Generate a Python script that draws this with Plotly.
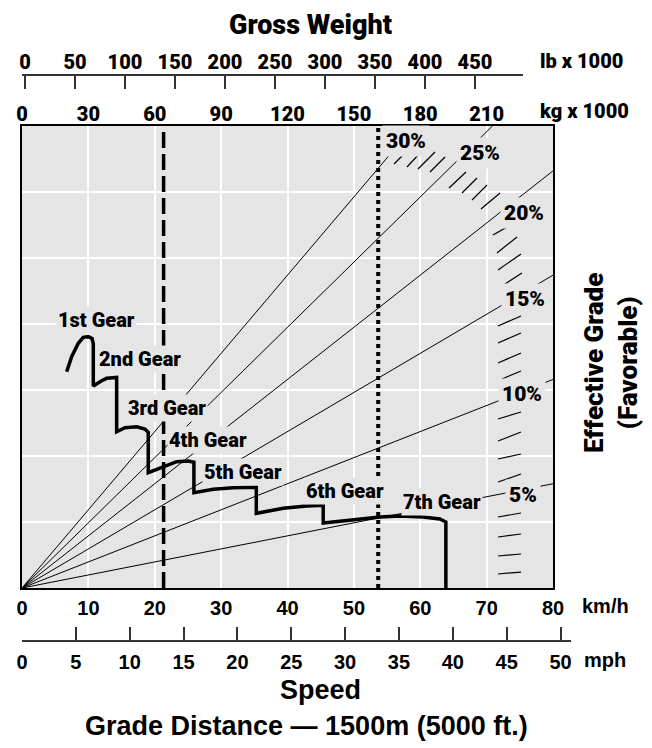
import plotly.graph_objects as go

# ---------------- data ----------------
speed_ticks_kmh = [0, 10, 20, 30, 40, 50, 60, 70, 80]
speed_ticks_mph = [0, 5, 10, 15, 20, 25, 30, 35, 40, 45, 50]
weight_ticks_kg = [0, 30, 60, 90, 120, 150, 180, 210]
weight_ticks_lb = [0, 50, 100, 150, 200, 250, 300, 350, 400, 450]

grades_pct = [5, 10, 15, 20, 25, 30]
grade_slope_per_pct = 0.00395          # chart units per km/h for each 1 % grade

# retarder curve (speed km/h, chart units)
gear_speed = [6.73, 7.48, 8.48, 9.23, 9.98, 10.55, 10.74, 10.74, 12.0, 12.76, 14.26, 14.26,
              15.51, 17.27, 18.52, 19.02, 19.02, 21.28, 23.30, 25.05, 25.9, 25.9,
              28.81, 31.82, 35.3, 35.3, 39.35, 42.88, 45.38, 45.38,
              49.40, 53.92, 56.93, 60.39, 62.95, 63.86, 63.86]
gear_value = [3.277, 3.505, 3.708, 3.798, 3.808, 3.78, 3.70, 3.061, 3.14, 3.177, 3.19, 2.368,
              2.429, 2.444, 2.409, 2.36, 1.747, 1.838, 1.914, 1.924, 1.905, 1.444,
              1.495, 1.520, 1.526, 1.132, 1.208, 1.242, 1.253, 0.985,
              1.030, 1.076, 1.091, 1.076, 1.045, 1.0, 0.0]

gear_names = ["1st Gear", "2nd Gear", "3rd Gear", "4th Gear", "5th Gear", "6th Gear", "7th Gear"]
gear_label_speed = [11.15, 17.85, 21.77, 27.95, 33.22, 48.66, 63.35]
gear_label_value = [4.061, 3.477, 2.720, 2.242, 1.765, 1.477, 1.303]

grade_label_speed = [75.48, 75.33, 75.78, 75.63, 69.0, 57.85]
grade_label_value = [1.409, 2.939, 4.379, 5.682, 6.591, 6.773]

# gross weight reference lines (kg x 1000)
weight_dashed_kg = 64
weight_dotted_kg = 161

# hatch marks of the limit boundary (start/end speed, start/end value)
hatch_x0 = [56.05, 58.00, 59.66, 61.47, 64.33, 66.29, 67.80, 69.15, 70.96, 71.56, 71.71, 72.77,
            71.71, 71.71, 71.71, 72.32, 71.71, 71.71, 71.71, 71.71, 71.71, 71.71, 71.71, 71.71]
hatch_y0 = [6.424, 6.379, 6.348, 6.303, 6.061, 5.985, 5.879, 5.742, 5.348, 5.076, 4.818, 4.606,
            3.970, 3.712, 3.409, 3.167, 2.561, 2.227, 1.955, 1.606, 1.076, 0.773, 0.485, 0.212]
hatch_x1 = [57.70, 59.96, 62.22, 63.73, 66.89, 68.55, 70.06, 72.02, 74.12, 74.58, 75.18, 75.33,
            75.18, 75.18, 75.18, 75.18, 75.18, 75.18, 75.18, 75.18, 75.18, 75.18, 75.18, 75.18]
hatch_y1 = [6.591, 6.591, 6.606, 6.530, 6.303, 6.212, 6.106, 5.985, 5.530, 5.318, 5.061, 4.773,
            4.121, 3.864, 3.561, 3.288, 2.667, 2.364, 2.030, 1.727, 1.136, 0.818, 0.515, 0.242]

KMH_MAX = 80
Y_MAX = 7
KG_PER_KMH = 3          # weight scale: 30 t per 10 km/h

# ---------------- layout geometry ----------------
W, H = 652, 748
ML, MR, MT, MB = 22, 72, 40, 80
PW, PH = W - ML - MR, H - MT - MB


def px_x(px):
    return (px - ML) / PW


def px_y(py):
    return (H - MB - py) / PH


NARROW = "Roboto, Liberation Sans Narrow, DejaVu Sans Condensed, sans-serif"
SANS = "Liberation Sans, Arial, Helvetica, sans-serif"
GRAY = "#e5e5e5"


def heavy(v):
    return f'<span style="font-weight:900">{v}</span>'


def bold(v):
    return f"<b>{v}</b>"


fig = go.Figure()

# grade lines from origin
gx, gy = [], []
for g in grades_pct:
    k = g * grade_slope_per_pct
    xe = min(KMH_MAX, Y_MAX / k)
    gx += [0, xe, None]
    gy += [0, k * xe, None]
fig.add_trace(go.Scatter(x=gx, y=gy, mode="lines", line=dict(color="black", width=1),
                         hoverinfo="skip"))

# hatch marks
hx, hy = [], []
for a, b, c, d in zip(hatch_x0, hatch_y0, hatch_x1, hatch_y1):
    hx += [a, c, None]
    hy += [b, d, None]
fig.add_trace(go.Scatter(x=hx, y=hy, mode="lines", line=dict(color="black", width=1.2),
                         hoverinfo="skip"))

# gross weight lines
xd = weight_dashed_kg / KG_PER_KMH
xt = weight_dotted_kg / KG_PER_KMH
fig.add_trace(go.Scatter(x=[xd, xd], y=[0, Y_MAX], mode="lines",
                         line=dict(color="black", width=3.5, dash="16px,6px"), hoverinfo="skip"))
fig.add_trace(go.Scatter(x=[xt, xt], y=[0, Y_MAX], mode="lines",
                         line=dict(color="black", width=4, dash="dot"), hoverinfo="skip"))

# gear curve
fig.add_trace(go.Scatter(x=gear_speed, y=gear_value, mode="lines",
                         line=dict(color="black", width=3.5), hoverinfo="skip"))

# dummy traces for the extra axes
fig.add_trace(go.Scatter(x=[], y=[], xaxis="x2", yaxis="y", hoverinfo="skip"))
fig.add_trace(go.Scatter(x=[], y=[], xaxis="x3", yaxis="y2", hoverinfo="skip"))
fig.add_trace(go.Scatter(x=[], y=[], xaxis="x4", yaxis="y2", hoverinfo="skip"))

main_right = (553 - ML) / PW
y_dom = [px_y(588), px_y(126)]

annotations = []
for name, sx, sy in zip(gear_names, gear_label_speed, gear_label_value):
    annotations.append(dict(x=sx, y=sy, xref="x", yref="y", text=heavy(name),
                            showarrow=False, font=dict(family=NARROW, size=20, color="black"),
                            bgcolor=GRAY, borderpad=1))
for g, sx, sy in zip(grades_pct, grade_label_speed, grade_label_value):
    annotations.append(dict(x=sx, y=sy, xref="x", yref="y", text=heavy(f"{g}%"),
                            showarrow=False, font=dict(family=NARROW, size=21, color="black"),
                            bgcolor=GRAY, borderpad=3))


def txt(text, x, y, size, family, xanchor="center", angle=0, wrap=bold):
    return dict(x=px_x(x), y=px_y(y), xref="paper", yref="paper", text=wrap(text),
                showarrow=False, xanchor=xanchor, yanchor="middle", textangle=angle,
                font=dict(family=family, size=size, color="black"))


annotations += [
    txt("Gross Weight", 310, 25, 27, NARROW, wrap=heavy),
    txt("lb x 1000", 538, 61, 20, NARROW, "left", wrap=heavy),
    txt("kg x 1000", 538, 111, 20, NARROW, "left", wrap=heavy),
    txt("km/h", 580, 606, 20, SANS, "left"),
    txt("mph", 582, 660, 20, SANS, "left"),
    txt("Speed", 320, 690, 27, SANS),
    txt("Grade Distance — 1500m (5000 ft.)", 306, 726, 27, SANS),
    txt(heavy("Effective Grade") + "<br>" + heavy("(Favorable)"), 611, 363, 26, NARROW,
        angle=-90, wrap=lambda s: s),
]

fig.update_layout(
    width=W, height=H, margin=dict(l=ML, r=MR, t=MT, b=MB),
    paper_bgcolor="white", plot_bgcolor="rgba(0,0,0,0)", showlegend=False,
    xaxis=dict(domain=[0, main_right], range=[0, KMH_MAX], tickvals=speed_ticks_kmh,
               ticktext=[bold(v) for v in speed_ticks_kmh],
               showline=True, mirror=True, linecolor="black", linewidth=2, ticks="",
               showgrid=True, gridcolor="white", gridwidth=1.5, zeroline=False,
               tickfont=dict(family=SANS, size=20, color="black"),
               ticklabelstandoff=1, anchor="y"),
    yaxis=dict(domain=y_dom, range=[0, Y_MAX], dtick=1, showticklabels=False, ticks="",
               showline=True, mirror=True, linecolor="black", linewidth=2,
               showgrid=True, gridcolor="white", gridwidth=1.5, zeroline=False, anchor="x"),
    xaxis2=dict(overlaying="x", side="top", anchor="y", range=[0, KMH_MAX * KG_PER_KMH],
                tickvals=weight_ticks_kg, ticktext=[heavy(v) for v in weight_ticks_kg],
                showgrid=False, showline=False, ticks="",
                zeroline=False, ticklabelstandoff=0,
                tickfont=dict(family=NARROW, size=20, color="black")),
    xaxis3=dict(domain=[0, (523 - ML) / PW], anchor="free", position=px_y(75), side="top",
                range=[-3, 498], tickvals=weight_ticks_lb,
                ticktext=[heavy(v) for v in weight_ticks_lb],
                showgrid=False, zeroline=False,
                showline=True, linecolor="#333", linewidth=1.5,
                ticks="inside", ticklen=13, tickwidth=1.5, tickcolor="#333",
                ticklabelstandoff=-3,
                tickfont=dict(family=NARROW, size=20, color="black")),
    xaxis4=dict(domain=[0, (571 - ML) / PW], anchor="free", position=px_y(641), side="bottom",
                range=[0, (571 - ML) / 10.77], tickvals=speed_ticks_mph,
                ticktext=[bold(v) for v in speed_ticks_mph], showgrid=False,
                zeroline=False, showline=True, linecolor="#333", linewidth=1.5,
                ticks="inside", ticklen=13, tickwidth=1.5, tickcolor="#333",
                ticklabelstandoff=3,
                tickfont=dict(family=SANS, size=20, color="black")),
    yaxis2=dict(visible=False, anchor="free", position=0, range=[0, 1], showgrid=False),
    shapes=[dict(type="rect", xref="x domain", yref="y domain", x0=0, x1=1, y0=0, y1=1,
                 fillcolor=GRAY, line=dict(width=0), layer="below")],
    annotations=annotations,
)

fig.write_html("out.html")
